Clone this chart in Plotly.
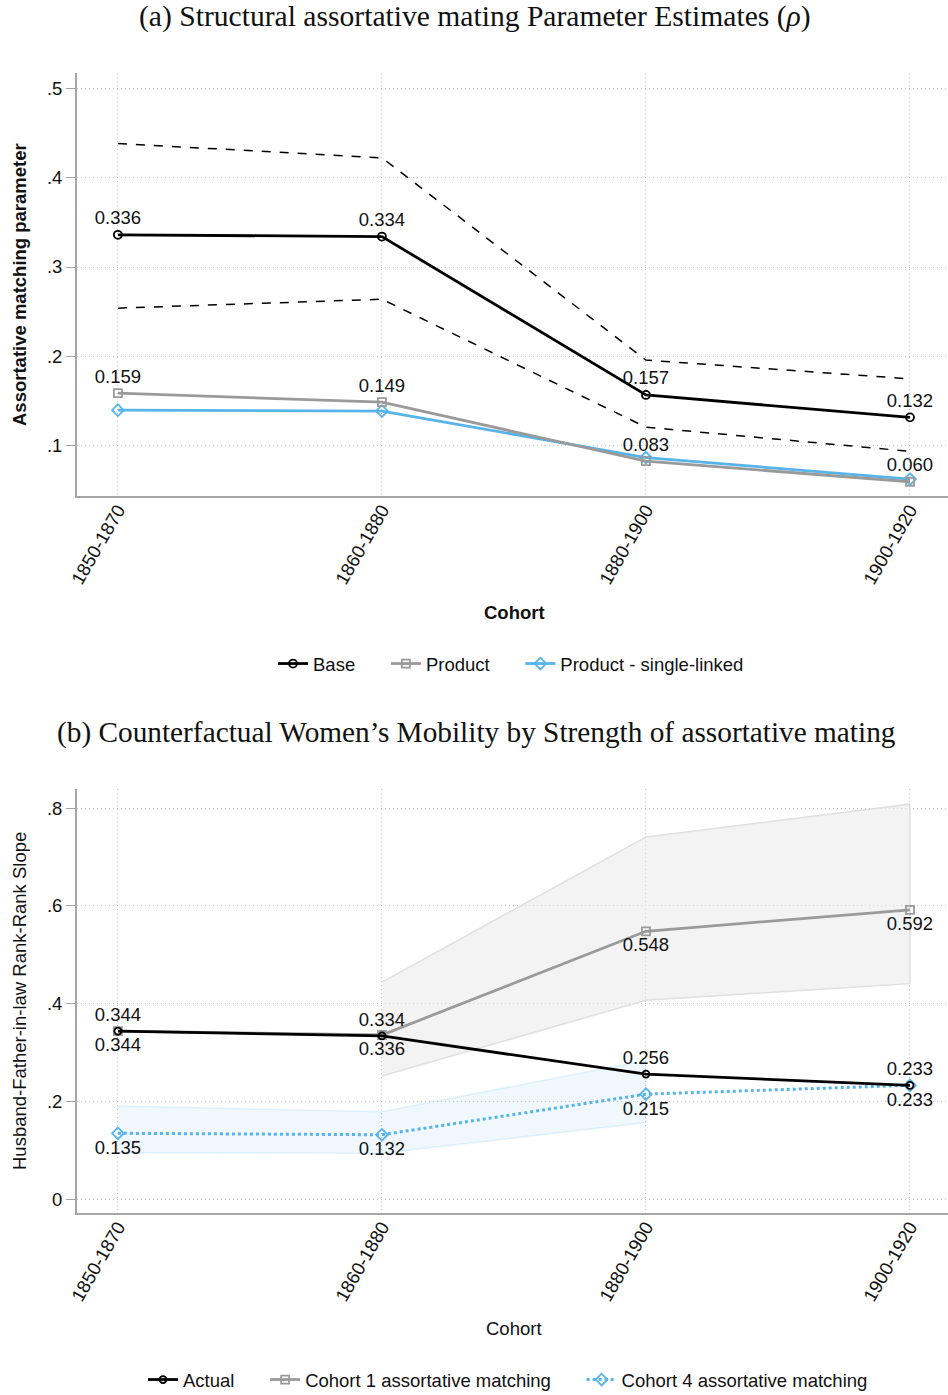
import plotly.graph_objects as go

W, H = 948, 1395

# ---- data -------------------------------------------------------------
cohorts = ["1850-1870", "1860-1880", "1880-1900", "1900-1920"]

# (a) structural assortative-matching parameter estimates
base = [0.336, 0.334, 0.157, 0.132]
base_hi = [0.438, 0.422, 0.196, 0.175]
base_lo = [0.254, 0.264, 0.121, 0.094]
product = [0.159, 0.149, 0.083, 0.060]
single_linked = [0.140, 0.139, 0.087, 0.063]

# (b) counterfactual husband/father-in-law rank-rank slopes
actual = [0.344, 0.334, 0.256, 0.233]
cf_c1 = [0.344, 0.336, 0.548, 0.592]
cf_c1_hi = [None, 0.444, 0.741, 0.808]
cf_c1_lo = [None, 0.252, 0.407, 0.441]
cf_c4 = [0.135, 0.132, 0.215, 0.233]
cf_c4_hi = [0.191, 0.179, 0.284, None]
cf_c4_lo = [0.095, 0.094, 0.157, None]

yticks_a = [0.1, 0.2, 0.3, 0.4, 0.5]
yticklabels_a = [".1", ".2", ".3", ".4", ".5"]
yticks_b = [0.0, 0.2, 0.4, 0.6, 0.8]
yticklabels_b = ["0", ".2", ".4", ".6", ".8"]

# ---- styling ----------------------------------------------------------
BLACK = "#000000"
GREY = "#9a9a9a"
BLUE = "#56b4e9"
SANS = "Liberation Sans, Arial, sans-serif"
SERIF = "Liberation Serif, Times New Roman, serif"
FS = 18.5
LBL = dict(family=SANS, size=FS, color="#111111")
PAD = "\u00a0" * 5  # extra spacing between legend entries


def px(x):
    return x / W


def py(y):
    return 1 - y / H


def subset(xs, ys):
    pairs = [(x, y) for x, y in zip(xs, ys) if y is not None]
    return [p[0] for p in pairs], [p[1] for p in pairs]


fig = go.Figure()

# ---------------- panel (a) ----------------
for ci in (base_hi, base_lo):
    fig.add_trace(go.Scatter(
        x=cohorts, y=ci, mode="lines", xaxis="x", yaxis="y",
        line=dict(color=BLACK, width=1.5, dash="dash"),
        showlegend=False, hoverinfo="skip"))

fig.add_trace(go.Scatter(
    x=cohorts, y=single_linked, mode="lines+markers", name="Product - single-linked",
    xaxis="x", yaxis="y", legend="legend", legendrank=3,
    line=dict(color=BLUE, width=2.8),
    marker=dict(symbol="diamond-open", size=9, color=BLUE, line=dict(width=1.8))))

fig.add_trace(go.Scatter(
    x=cohorts, y=product, mode="lines+markers+text", name="Product" + PAD,
    xaxis="x", yaxis="y", legend="legend", legendrank=2,
    line=dict(color=GREY, width=2.8),
    marker=dict(symbol="square-open", size=8, color=GREY, line=dict(width=1.8)),
    texttemplate="%{y:.3f}", textposition="top center", textfont=LBL))

fig.add_trace(go.Scatter(
    x=cohorts, y=base, mode="lines+markers+text", name="Base" + PAD,
    xaxis="x", yaxis="y", legend="legend", legendrank=1,
    line=dict(color=BLACK, width=2.8),
    marker=dict(symbol="circle-open", size=8, color=BLACK, line=dict(width=1.8)),
    texttemplate="%{y:.3f}", textposition="top center", textfont=LBL))

# ---------------- panel (b) ----------------
# confidence bands
x1, hi1 = subset(cohorts, cf_c1_hi)
_, lo1 = subset(cohorts, cf_c1_lo)
fig.add_trace(go.Scatter(
    x=x1 + x1[::-1], y=hi1 + lo1[::-1], mode="lines", fill="toself",
    xaxis="x2", yaxis="y2", fillcolor="rgba(232,232,232,0.5)",
    line=dict(color="rgba(218,218,218,0.8)", width=1.5),
    showlegend=False, hoverinfo="skip"))

x4, hi4 = subset(cohorts, cf_c4_hi)
_, lo4 = subset(cohorts, cf_c4_lo)
fig.add_trace(go.Scatter(
    x=x4 + x4[::-1], y=hi4 + lo4[::-1], mode="lines", fill="toself",
    xaxis="x2", yaxis="y2", fillcolor="rgba(86,180,233,0.09)",
    line=dict(color="rgba(86,180,233,0.15)", width=1.5),
    showlegend=False, hoverinfo="skip"))

fig.add_trace(go.Scatter(
    x=cohorts, y=cf_c4, mode="lines+markers+text", name="Cohort 4 assortative matching",
    xaxis="x2", yaxis="y2", legend="legend2", legendrank=3,
    line=dict(color=BLUE, width=3, dash="dot"),
    marker=dict(symbol="diamond-open", size=9, color=BLUE, line=dict(width=1.8)),
    texttemplate="%{y:.3f}", textposition="bottom center", textfont=LBL))

fig.add_trace(go.Scatter(
    x=cohorts, y=cf_c1, mode="lines+markers+text", name="Cohort 1 assortative matching" + PAD,
    xaxis="x2", yaxis="y2", legend="legend2", legendrank=2,
    line=dict(color=GREY, width=2.8),
    marker=dict(symbol="square-open", size=8, color=GREY, line=dict(width=1.8)),
    texttemplate="%{y:.3f}", textposition="bottom center", textfont=LBL))

fig.add_trace(go.Scatter(
    x=cohorts, y=actual, mode="lines+markers+text", name="Actual" + PAD,
    xaxis="x2", yaxis="y2", legend="legend2", legendrank=1,
    line=dict(color=BLACK, width=2.8),
    marker=dict(symbol="circle-open", size=7, color=BLACK, line=dict(width=1.8)),
    texttemplate="%{y:.3f}", textposition="top center", textfont=LBL))

# ---- axes ---------------------------------------------------------------
xdom = [px(77), 1.0]
xrange = [-0.155, 3.144]
GRID = dict(showgrid=True, gridcolor="#c4c4c4", griddash="1px,3px", gridwidth=1)
common_x = dict(
    type="category", categoryorder="array", categoryarray=cohorts,
    range=xrange, domain=xdom, tickangle=-60,
    tickfont=dict(family=SANS, size=FS, color="#111111"),
    showline=True, linecolor="#a6a6a6", linewidth=1.8,
    ticks="", automargin=False, ticklabelstandoff=-6,
    zeroline=False, fixedrange=True, **GRID)
common_y = dict(
    tickfont=dict(family=SANS, size=FS, color="#111111"),
    showline=True, linecolor="#a6a6a6", linewidth=1.8,
    ticks="outside", ticklen=9, tickcolor="#a6a6a6", automargin=False,
    zeroline=False, fixedrange=True, **GRID)

fig.update_layout(
    xaxis=dict(anchor="y", **common_x),
    yaxis=dict(anchor="x", domain=[py(496), py(73)], range=[0.0441, 0.5168],
               tickvals=yticks_a, ticktext=yticklabels_a, **common_y),
    xaxis2=dict(anchor="y2", **common_x),
    yaxis2=dict(anchor="x2", domain=[py(1213), py(789)], range=[-0.028, 0.839],
                tickvals=yticks_b, ticktext=yticklabels_b, **common_y),
)

legend_style = dict(
    orientation="h", xanchor="center", yanchor="middle",
    font=dict(family=SANS, size=FS, color="#111111"),
    bgcolor="rgba(0,0,0,0)", traceorder="normal")
fig.update_layout(
    legend=dict(x=px(511), y=py(664), **legend_style),
    legend2=dict(x=px(508), y=py(1380), **legend_style),
)

# ---- titles -----------------------------------------------------------
ann = []
ann.append(dict(x=px(475), y=py(16), text="(a) Structural assortative mating Parameter Estimates (<i>ρ</i>)",
                font=dict(family=SERIF, size=29.6, color="#111111")))
ann.append(dict(x=px(476), y=py(732), text="(b) Counterfactual Women’s Mobility by Strength of assortative mating",
                font=dict(family=SERIF, size=29.3, color="#111111")))
ann.append(dict(x=px(19), y=py(285), text="<b>Assortative matching parameter</b>", textangle=-90,
                font=dict(family=SANS, size=18.5, color="#111111")))
ann.append(dict(x=px(19), y=py(1001), text="Husband-Father-in-law Rank-Rank Slope", textangle=-90,
                font=dict(family=SANS, size=18.5, color="#111111")))
ann.append(dict(x=px(514), y=py(612), text="<b>Cohort</b>",
                font=dict(family=SANS, size=18.5, color="#111111")))
ann.append(dict(x=px(514), y=py(1328), text="Cohort",
                font=dict(family=SANS, size=18.5, color="#111111")))
for a in ann:
    a.update(xref="paper", yref="paper", xanchor="center", yanchor="middle", showarrow=False)

fig.update_layout(
    annotations=ann,
    width=W, height=H,
    margin=dict(l=0, r=0, t=0, b=0, autoexpand=False),
    paper_bgcolor="white", plot_bgcolor="white",
    showlegend=True,
)

fig.write_html("out.html", include_plotlyjs=True, config={"displayModeBar": False})
